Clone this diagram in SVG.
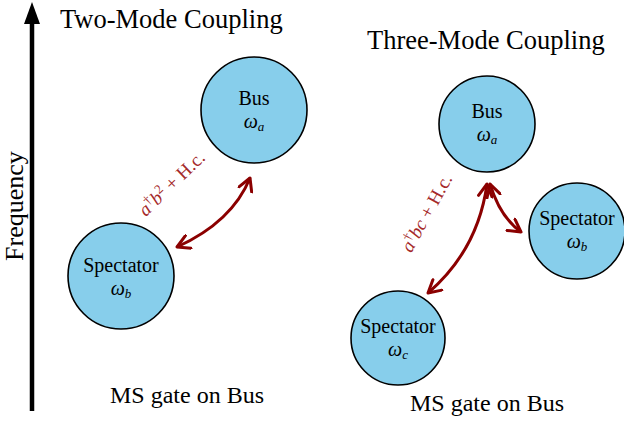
<svg xmlns="http://www.w3.org/2000/svg" width="624" height="421" viewBox="0 0 624 421" font-family="'Liberation Serif', 'DejaVu Serif', serif">
<defs>
<style>
.node{fill:#87CEEB;stroke:#000;stroke-width:1.6}
.lbl{font-family:'Liberation Serif','DejaVu Serif',serif;font-size:20px;text-anchor:middle}
.title{font-family:'Liberation Serif','DejaVu Serif',serif;font-size:26.5px}
.cap{font-family:'Liberation Serif','DejaVu Serif',serif;font-size:24px;text-anchor:middle}
.conn{fill:none;stroke:#8B0000;stroke-width:3}
.red{font-family:'Liberation Serif','DejaVu Serif',serif;fill:#A52A2A;font-size:19px}
</style>
<marker id="ah" viewBox="0 0 12 12" refX="10" refY="6" markerWidth="5.5" markerHeight="5.5" orient="auto-start-reverse" markerUnits="strokeWidth">
<path d="M1,1 L10,6 L1,11" fill="none" stroke="#8B0000" stroke-width="2.2" stroke-linecap="round" stroke-linejoin="round"/>
</marker>
</defs>
<g id="axis">
<line x1="32" y1="411" x2="32" y2="22" stroke="#000" stroke-width="4.5"/>
<path d="M24,24 L32,2 L40,24 z" fill="#000"/>
<text x="0" y="0" font-size="26" text-anchor="middle" transform="translate(23,206) rotate(-90)">Frequency</text>
</g>
<text class="title" x="60" y="28">Two-Mode Coupling</text>
<text class="title" x="367" y="49">Three-Mode Coupling</text>
<g id="connectors">
<path class="conn" d="M177,247 Q232,222 250,178" marker-start="url(#ah)" marker-end="url(#ah)"/>
<path class="conn" d="M428,293 Q478,250 487,184" marker-start="url(#ah)" marker-end="url(#ah)"/>
<path class="conn" d="M490,184 Q500,217 521,232" marker-start="url(#ah)" marker-end="url(#ah)"/>
<text class="red" transform="translate(176,188) rotate(-44)" text-anchor="middle"><tspan font-style="italic">a</tspan><tspan dy="-7" font-size="13">†</tspan><tspan dy="7" font-style="italic">b</tspan><tspan dy="-7" font-size="13">2</tspan><tspan dy="7"> + H.c.</tspan></text>
<text class="red" transform="translate(432,216) rotate(-61)" text-anchor="middle"><tspan font-style="italic">a</tspan><tspan dy="-7" font-size="13">†</tspan><tspan dy="7" font-style="italic">bc</tspan><tspan> + H.c.</tspan></text>
</g>
<g id="bus2">
<circle class="node" cx="254" cy="110" r="53"/>
<text class="lbl" x="254" y="105">Bus</text>
<text class="lbl" x="254" y="128"><tspan font-style="italic">ω</tspan><tspan font-size="13" font-style="italic" dy="3">a</tspan></text>
</g>
<g id="spec2">
<circle class="node" cx="121" cy="276" r="53"/>
<text class="lbl" x="121" y="272">Spectator</text>
<text class="lbl" x="121" y="295"><tspan font-style="italic">ω</tspan><tspan font-size="13" font-style="italic" dy="3">b</tspan></text>
</g>
<g id="bus3">
<circle class="node" cx="487" cy="124" r="48"/>
<text class="lbl" x="487" y="118">Bus</text>
<text class="lbl" x="487" y="141"><tspan font-style="italic">ω</tspan><tspan font-size="13" font-style="italic" dy="3">a</tspan></text>
</g>
<g id="specb3">
<circle class="node" cx="577" cy="231" r="48"/>
<text class="lbl" x="577" y="225">Spectator</text>
<text class="lbl" x="577" y="248"><tspan font-style="italic">ω</tspan><tspan font-size="13" font-style="italic" dy="3">b</tspan></text>
</g>
<g id="specc3">
<circle class="node" cx="398" cy="338" r="47"/>
<text class="lbl" x="398" y="333">Spectator</text>
<text class="lbl" x="398" y="356"><tspan font-style="italic">ω</tspan><tspan font-size="13" font-style="italic" dy="3">c</tspan></text>
</g>
<text class="cap" x="187" y="403">MS gate on Bus</text>
<text class="cap" x="487" y="411">MS gate on Bus</text>
</svg>
